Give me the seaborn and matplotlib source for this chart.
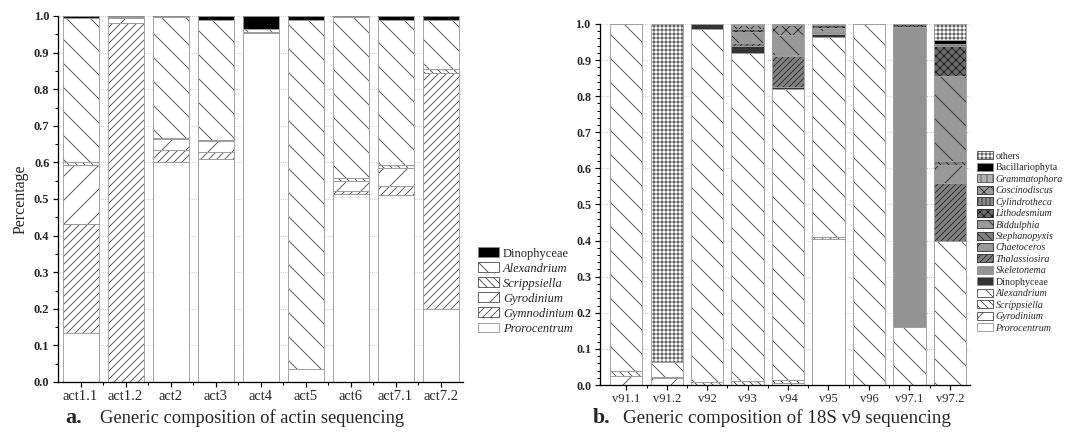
import numpy as np
import matplotlib
matplotlib.use('Agg')
import matplotlib.pyplot as plt
import matplotlib.patches as mpatches
from matplotlib.ticker import MultipleLocator, FixedLocator, FormatStrFormatter
import seaborn as sns

# panel a: actin sequencing (fractions, stacked from bottom)
act_cats = ['act1.1', 'act1.2', 'act2', 'act3', 'act4', 'act5', 'act6', 'act7.1', 'act7.2']
act_pro = [0.135, 0.0, 0.600, 0.608, 0.953, 0.035, 0.515, 0.510, 0.200]
act_gymno = [0.298, 0.980, 0.033, 0.020, 0.0, 0.0, 0.008, 0.025, 0.645]
act_gyro = [0.160, 0.015, 0.032, 0.030, 0.0, 0.0, 0.027, 0.050, 0.0]
act_scrip = [0.007, 0.0, 0.002, 0.004, 0.002, 0.0, 0.008, 0.007, 0.010]
act_alex = [0.395, 0.003, 0.330, 0.328, 0.010, 0.955, 0.440, 0.398, 0.135]
act_dino = [0.005, 0.002, 0.003, 0.010, 0.035, 0.010, 0.002, 0.010, 0.010]

# panel b: 18S v9 sequencing
v9_cats = ['v91.1', 'v91.2', 'v92', 'v93', 'v94', 'v95', 'v96', 'v97.1', 'v97.2']
v9_pro = [0, 0, 0, 0, 0, 0.405, 0, 0, 0]
v9_gyro = [0.025, 0.020, 0, 0, 0.005, 0, 0, 0, 0]
v9_scrip = [0.015, 0.003, 0.008, 0.010, 0.010, 0.005, 0, 0, 0]
v9_alex = [0.960, 0.042, 0.977, 0.910, 0.805, 0.555, 1.0, 0.160, 0.400]
v9_dino = [0, 0, 0.015, 0.020, 0.005, 0.008, 0, 0, 0]
v9_skel = [0, 0, 0, 0, 0, 0.007, 0, 0.832, 0]
v9_thal = [0, 0, 0, 0.008, 0.085, 0, 0, 0, 0.160]
v9_chaet = [0, 0, 0, 0, 0.005, 0, 0, 0, 0.050]
v9_steph = [0, 0, 0, 0, 0, 0, 0, 0, 0.010]
v9_bidd = [0, 0, 0, 0.030, 0.055, 0.010, 0, 0, 0.235]
v9_litho = [0, 0, 0, 0.008, 0, 0.008, 0, 0.008, 0.085]
v9_cylin = [0, 0, 0, 0, 0, 0, 0, 0, 0.005]
v9_cosci = [0, 0, 0, 0.010, 0.026, 0, 0, 0, 0]
v9_gramm = [0, 0, 0, 0, 0, 0, 0, 0, 0]
v9_bacil = [0, 0, 0, 0, 0.004, 0, 0, 0, 0.010]
v9_others = [0, 0.935, 0, 0.004, 0, 0.002, 0, 0, 0.045]

act_layers = ['Prorocentrum', 'Gymnodinium', 'Gyrodinium', 'Scrippsiella', 'Alexandrium', 'Dinophyceae']
act_series = [act_pro, act_gymno, act_gyro, act_scrip, act_alex, act_dino]
v9_layers = ['Prorocentrum', 'Gyrodinium', 'Scrippsiella', 'Alexandrium', 'Dinophyceae',
             'Skeletonema', 'Thalassiosira', 'Chaetoceros', 'Stephanopyxis', 'Biddulphia',
             'Lithodesmium', 'Cylindrotheca', 'Coscinodiscus', 'Grammatophora',
             'Bacillariophyta', 'others']
v9_series = [v9_pro, v9_gyro, v9_scrip, v9_alex, v9_dino, v9_skel, v9_thal, v9_chaet,
             v9_steph, v9_bidd, v9_litho, v9_cylin, v9_cosci, v9_gramm, v9_bacil, v9_others]

# facecolor, hatch, hatch colour
act_style = {
    'Prorocentrum': ('white', None, '0.3'),
    'Gymnodinium': ('white', '///', '0.25'),
    'Gyrodinium': ('white', '/', '0.25'),
    'Scrippsiella': ('white', '\\\\\\', '0.25'),
    'Alexandrium': ('white', '\\', '0.25'),
    'Dinophyceae': ('black', None, 'black'),
}
v9_style = {
    'Prorocentrum': ('white', None, '0.3'),
    'Gyrodinium': ('white', '/', '0.25'),
    'Scrippsiella': ('white', '\\\\\\', '0.25'),
    'Alexandrium': ('white', '\\', '0.25'),
    'Dinophyceae': ('0.2', None, '0.2'),
    'Skeletonema': ('0.58', None, '0.58'),
    'Thalassiosira': ('0.5', '////', '0.15'),
    'Chaetoceros': ('0.6', '/', '0.15'),
    'Stephanopyxis': ('0.5', '\\\\\\', '0.15'),
    'Biddulphia': ('0.6', '\\', '0.15'),
    'Lithodesmium': ('0.42', 'xxx', '0.1'),
    'Cylindrotheca': ('0.55', '|||', '0.15'),
    'Coscinodiscus': ('0.6', 'xx', '0.15'),
    'Grammatophora': ('0.7', '||', '0.3'),
    'Bacillariophyta': ('black', None, 'black'),
    'others': ('white', '+++', '0.25'),
}
upright = {'Dinophyceae', 'Bacillariophyta', 'others'}

sns.set_style('ticks')
plt.rcParams['font.family'] = ['Liberation Serif', 'DejaVu Serif']
plt.rcParams['hatch.linewidth'] = 0.8

fig = plt.figure(figsize=(1068 / 72, 433 / 72))
ax1 = fig.add_axes([58 / 1068, 51 / 433, 405 / 1068, 366 / 433])
ax2 = fig.add_axes([600 / 1068, 48 / 433, 370 / 1068, 361 / 433])


def draw_stack(ax, cats, layers, series, style):
    base = np.zeros(len(cats))
    bottoms = []
    for name, vals in zip(layers, series):
        fc, hatch, hc = style[name]
        vals = np.asarray(vals, dtype=float)
        sns.barplot(x=cats, y=vals, bottom=base.copy(), color=fc, hatch=hatch,
                    edgecolor=hc, linewidth=0, width=0.8, saturation=1,
                    errorbar=None, ax=ax)
        bottoms.append(base.copy())
        base = base + vals
    # light grey outlines on top of all segments
    for vals, b in zip(series, bottoms):
        vals = np.asarray(vals, dtype=float)
        sns.barplot(x=cats, y=vals, bottom=b, color='white', facecolor='none',
                    edgecolor='0.62', linewidth=0.9, width=0.8, saturation=1,
                    errorbar=None, ax=ax)


draw_stack(ax1, act_cats, act_layers, act_series, act_style)
draw_stack(ax2, v9_cats, v9_layers, v9_series, v9_style)

for ax, minor, xl in [(ax1, 0.05, (-0.5, 8.5)), (ax2, 0.02, (-0.65, 8.5))]:
    ax.set_ylim(0, 1.0)
    ax.set_xlim(*xl)
    ax.yaxis.set_major_locator(MultipleLocator(0.1))
    ax.yaxis.set_minor_locator(MultipleLocator(minor))
    ax.yaxis.set_major_formatter(FormatStrFormatter('%.1f'))
    ax.xaxis.set_minor_locator(FixedLocator(np.arange(0.5, 8.5, 1)))
    ax.yaxis.grid(True, linestyle=':', color='0.72', linewidth=0.8)
    ax.set_axisbelow(True)
    sns.despine(ax=ax)
    for s in ['left', 'bottom']:
        ax.spines[s].set_linewidth(1.3)
        ax.spines[s].set_color('black')
    ax.tick_params(which='major', direction='out', length=5, width=1.2, color='black')
    ax.tick_params(which='minor', direction='out', length=3, width=1.0, color='black')
    ax.set_xlabel('')

ax1.set_ylabel('Percentage', fontsize=16, labelpad=5)
ax2.set_ylabel('')
ax1.tick_params(axis='x', labelsize=14.5, pad=3)
ax1.tick_params(axis='y', labelsize=12.5)
ax2.tick_params(axis='x', labelsize=12.5, pad=3)
ax2.tick_params(axis='y', labelsize=12)
for lab in ax1.get_yticklabels() + ax2.get_yticklabels():
    lab.set_fontweight('bold')


def make_legend(layers, style, anchor, fs, spacing, hlen, pad):
    handles = []
    for name in layers[::-1]:
        fc, hatch, hc = style[name]
        handles.append(mpatches.Patch(facecolor=fc, hatch=hatch, edgecolor=hc if hatch else '0.55',
                                      linewidth=0.8, label=name))
    leg = fig.legend(handles=handles, loc='center left', bbox_to_anchor=anchor,
                     frameon=False, fontsize=fs, handlelength=hlen, handleheight=0.85,
                     labelspacing=spacing, handletextpad=pad, borderpad=0,
                     borderaxespad=0)
    for t in leg.get_texts():
        if t.get_text() not in upright:
            t.set_fontstyle('italic')
    return leg


make_legend(act_layers, act_style, (478 / 1068, 1 - 291 / 433), 12.5, 0.22, 1.7, 0.3)
make_legend(v9_layers, v9_style, (977 / 1068, 1 - 242 / 433), 10, 0.2, 1.6, 0.25)

cap_y = 1 - 418 / 433
fig.text(65 / 1068, cap_y, 'a.', fontsize=22, fontweight='bold', va='center')
fig.text(100 / 1068, cap_y, 'Generic composition of actin sequencing',
         fontsize=18.5, va='center')
fig.text(593 / 1068, cap_y, 'b.', fontsize=22, fontweight='bold', va='center')
fig.text(623 / 1068, cap_y, 'Generic composition of 18S v9 sequencing',
         fontsize=19, va='center')

fig.savefig('out.png', dpi=72)
